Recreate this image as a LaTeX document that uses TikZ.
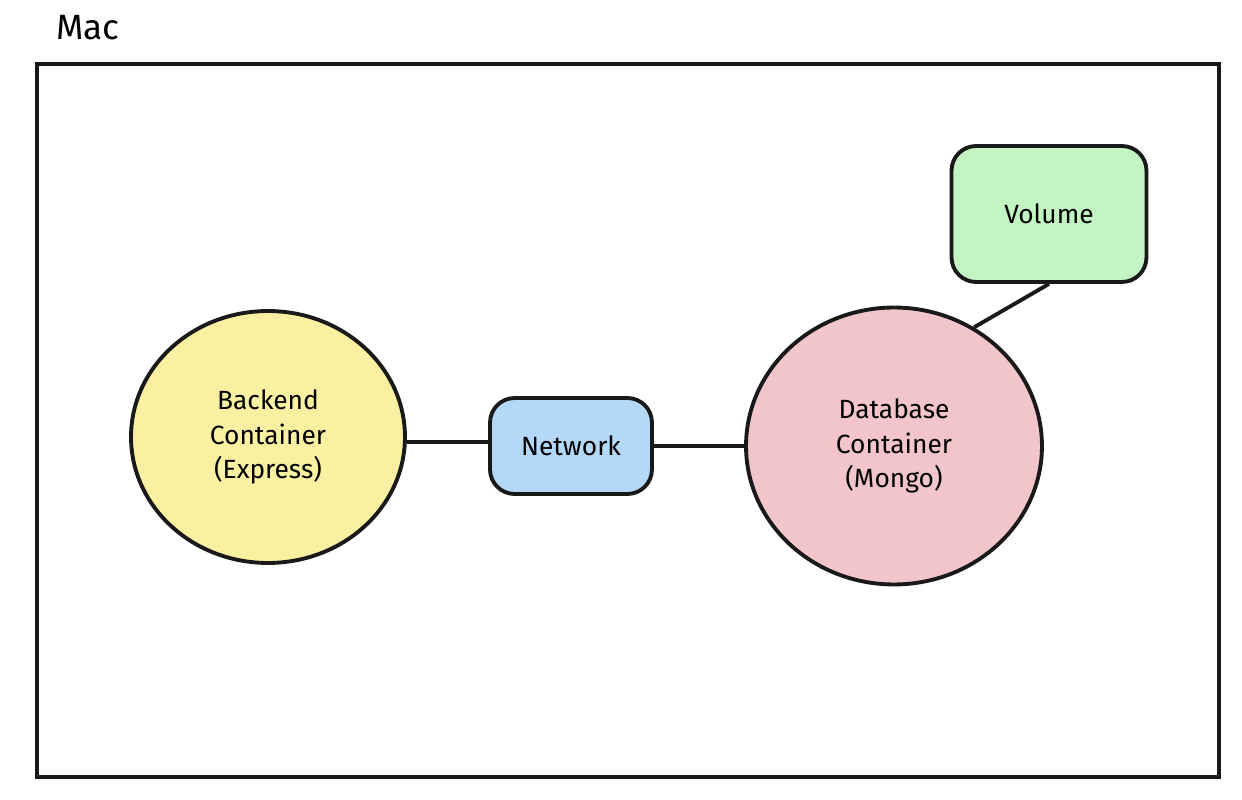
\documentclass[tikz,border=0pt]{standalone}
\usepackage{fontspec}
\setmainfont{Fira Sans}
\definecolor{backendfill}{HTML}{FAF0A2}
\definecolor{networkfill}{HTML}{B4D8F8}
\definecolor{databasefill}{HTML}{F2C5CB}
\definecolor{volumefill}{HTML}{C2F5C2}
\tikzset{
  box/.style={draw=black!90, line width=2.2pt, rounded corners=14pt, align=center, font=\fontsize{15}{19}\selectfont},
  container/.style={draw=black!90, line width=2.2pt, ellipse, align=center, inner sep=0pt, font=\fontsize{15}{19.5}\selectfont},
  link/.style={draw=black!90, line width=2.2pt}
}
\usetikzlibrary{shapes.geometric}
\begin{document}
\begin{tikzpicture}[x=0.02cm,y=-0.02cm]
        \useasboundingbox (0, 0) rectangle (1242, 800);
        \node[font=\fontsize{20}{24}\selectfont] (mac) at (88, 28) {Mac};
        \draw[line width=2.2pt, draw=black!90] (37, 64) rectangle (1219, 777);
        \node[container, fill=backendfill, minimum width=5.48cm, minimum height=5.04cm] (backend) at (268, 437) {Backend\\Container\\(Express)};
        \node[box, fill=networkfill, minimum width=3.24cm, minimum height=1.92cm] (network) at (571, 446) {Network};
        \node[container, fill=databasefill, minimum width=5.92cm, minimum height=5.54cm] (database) at (894, 446) {Database\\Container\\(Mongo)};
        \node[box, fill=volumefill, minimum width=3.9cm, minimum height=2.72cm] (volume) at (1049, 214) {Volume};
        \draw[link] ([yshift=-3pt]backend.east) -- ([yshift=-3pt]backend.east -| network.west);
        \draw[link] (network.east) -- (network.east -| database.west);
        \draw[link] (volume.south) -- (database.56);
        \end{tikzpicture}
\end{document}
